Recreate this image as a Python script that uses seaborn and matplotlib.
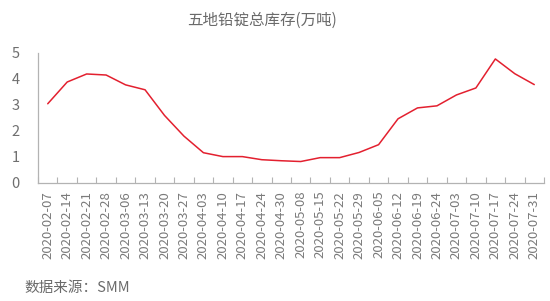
import matplotlib
matplotlib.use("Agg")
import matplotlib.pyplot as plt
import seaborn as sns
import pandas as pd
from matplotlib.ticker import FixedLocator

dates = ["2020-02-07", "2020-02-14", "2020-02-21", "2020-02-28", "2020-03-06",
         "2020-03-13", "2020-03-20", "2020-03-27", "2020-04-03", "2020-04-10",
         "2020-04-17", "2020-04-24", "2020-04-30", "2020-05-08", "2020-05-15",
         "2020-05-22", "2020-05-29", "2020-06-05", "2020-06-12", "2020-06-19",
         "2020-06-24", "2020-07-03", "2020-07-10", "2020-07-17", "2020-07-24",
         "2020-07-31"]
inventory = [3.04, 3.88, 4.19, 4.15, 3.77, 3.58, 2.59, 1.79, 1.15, 1.00,
             1.00, 0.88, 0.84, 0.81, 0.96, 0.96, 1.16, 1.46, 2.46, 2.88,
             2.96, 3.38, 3.65, 4.77, 4.20, 3.78]
yticks = [0, 1, 2, 3, 4, 5]
title = "五地铅锭总库存(万吨)"
source = "数据来源：SMM"

sns.set_theme(style="white")
plt.rcParams["font.family"] = ["Noto Sans CJK SC", "DejaVu Sans"]

df = pd.DataFrame({"date": dates, "value": inventory})

fig = plt.figure(figsize=(5.5, 3.01), dpi=100)
ax = fig.add_axes([38/550, 1-182.5/301, (544-38)/550, (182.5-53)/301])

sns.lineplot(data=df, x="date", y="value", ax=ax, color="#e3202f", linewidth=1.1,
             sort=False)

ax.set_xlim(-0.5, len(dates) - 0.5)
ax.set_ylim(0, 5)
ax.set_yticks(yticks)
ax.set_xticks(range(len(dates)))
ax.set_xticklabels(dates, rotation=90)
ax.xaxis.set_minor_locator(FixedLocator([i - 0.5 for i in range(len(dates) + 1)]))
ax.tick_params(axis="x", which="major", length=0, pad=6, labelsize=9.5, labelcolor="#7a7a7a")
ax.tick_params(axis="x", which="minor", length=4.5, width=0.8, direction="in",
               color="#b3b3b3", bottom=True)
ax.tick_params(axis="y", length=0, pad=13, labelsize=10.5, labelcolor="#6f6f6f")
ax.set_xlabel("")
ax.set_ylabel("")
ax.patch.set_alpha(0)
for s in ["top", "right"]:
    ax.spines[s].set_visible(False)
for s in ["left", "bottom"]:
    ax.spines[s].set_color("#b3b3b3")
    ax.spines[s].set_linewidth(0.9)

fig.text(262/550, 1-20/301, title, ha="center", va="center", fontsize=11.2, color="#6a6a6a")
fig.text(24/550, 1-288/301, source, ha="left", va="center", fontsize=10.5, color="#6a6a6a")

fig.savefig("out.png", dpi=100)
